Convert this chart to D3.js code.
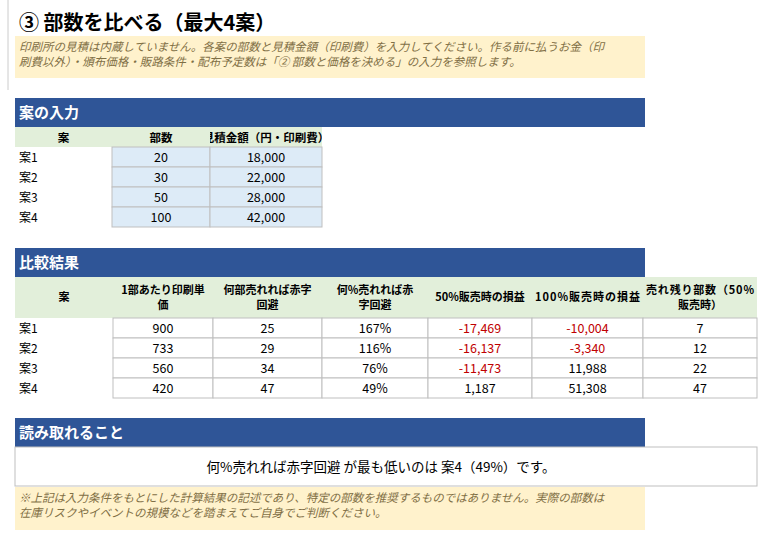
<!DOCTYPE html>
<html><head><meta charset="utf-8">
<script src="https://cdn.jsdelivr.net/npm/d3@7"></script>
<style>body{margin:0;background:#fff}svg{display:block;font-family:"Noto Sans CJK JP","Noto Sans",sans-serif}</style>
</head><body><svg id="c"></svg>
<script>
const plans = ["案1", "案2", "案3", "案4"];
const copies = [20, 30, 50, 100];
const quotes = [18000, 22000, 28000, 42000];
const unitCost = [900, 733, 560, 420];
const breakEvenCopies = [25, 29, 34, 47];
const breakEvenPct = ["167%", "116%", "76%", "49%"];
const profit50 = [-17469, -16137, -11473, 1187];
const profit100 = [-10004, -3340, 11988, 51308];
const unsold50 = [7, 12, 22, 47];
const inputHeaders = ["案", "部数", "見積金額（円・印刷費）"];
const resultHeaders = [["案"], ["1部あたり印刷単", "価"], ["何部売れれば赤字", "回避"], ["何%売れれば赤", "字回避"], ["50%販売時の損益"], ["100%販売時の損益"], ["売れ残り部数（50%", "販売時）"]];

const W = 767, H = 533;
const fmt = d3.format(",");
const svg = d3.select("#c").attr("width", W).attr("height", H);
const blue = "#2F5597", green = "#E2EFDA", yellow = "#FFF2CC", grid = "#BFBFBF";

svg.append("line").attr("x1", 8).attr("x2", 8).attr("y1", 0).attr("y2", 90).attr("stroke", "#ccc");
svg.append("text").attr("x", 19).attr("y", 30).attr("font-size", 20).attr("font-weight", "bold").text("③ 部数を比べる（最大4案）");

function note(y, h, lines) {
  svg.append("rect").attr("x", 15).attr("y", y).attr("width", 630).attr("height", h).attr("fill", yellow);
  lines.forEach((t, i) => svg.append("text").attr("x", 19).attr("y", y + 15 + i * 15)
    .attr("font-size", 11.5).attr("font-style", "italic").attr("fill", "#7F6F45").text(t));
}
function bar(y, label) {
  svg.append("rect").attr("x", 15).attr("y", y).attr("width", 630).attr("height", 29).attr("fill", blue);
  svg.append("text").attr("x", 19).attr("y", y + 20).attr("font-size", 15).attr("font-weight", "bold").attr("fill", "#fff").text(label);
}

note(36, 42, ["印刷所の見積は内蔵していません。各案の部数と見積金額（印刷費）を入力してください。作る前に払うお金（印",
  "刷費以外）・頒布価格・販路条件・配布予定数は「② 部数と価格を決める」の入力を参照します。"]);

// input table
bar(98, "案の入力");
const x1 = d3.scaleOrdinal().domain([0, 1, 2, 3]).range([15, 112, 210, 322]);
const y1 = d3.scaleBand().domain(plans).range([147, 227]);
svg.append("rect").attr("x", 15).attr("y", 127).attr("width", 307).attr("height", 20).attr("fill", green);
svg.append("clipPath").attr("id", "clipIn").append("rect").attr("x", 210).attr("y", 127).attr("width", 112).attr("height", 20);
inputHeaders.forEach((h, i) => svg.append("text").attr("x", (x1(i) + x1(i + 1)) / 2).attr("y", 142)
  .attr("text-anchor", "middle").attr("font-size", 11.5).attr("font-weight", "bold")
  .attr("clip-path", i === 2 ? "url(#clipIn)" : null).text(h));
plans.forEach((p, r) => {
  const y = y1(p), h = y1.bandwidth();
  svg.append("text").attr("x", 19).attr("y", y + 15).attr("font-size", 12).text(p);
  [copies[r], fmt(quotes[r])].forEach((v, c) => {
    const xa = x1(c + 1), xb = x1(c + 2);
    svg.append("rect").attr("x", xa).attr("y", y).attr("width", xb - xa).attr("height", h)
      .attr("fill", "#DDEBF7").attr("stroke", grid);
    svg.append("text").attr("x", (xa + xb) / 2).attr("y", y + 15).attr("text-anchor", "middle").attr("font-size", 12.5).text(v);
  });
});

// results table
bar(248, "比較結果");
const cols = [15, 113, 213, 322, 428, 532, 643, 757];
const y2 = d3.scaleBand().domain(plans).range([318, 398]);
svg.append("rect").attr("x", 15).attr("y", 277).attr("width", 742).attr("height", 41).attr("fill", green);
resultHeaders.forEach((lines, i) => {
  const cx = (cols[i] + cols[i + 1]) / 2;
  lines.forEach((t, k) => svg.append("text").attr("x", cx)
    .attr("y", 301 + (k - (lines.length - 1) / 2) * 15).attr("text-anchor", "middle")
    .attr("font-size", 11).attr("font-weight", "bold").attr("textLength", t.length > 9 ? cols[i + 1] - cols[i] - 6 : null).text(t));
});
plans.forEach((p, r) => {
  const y = y2(p), h = y2.bandwidth();
  svg.append("text").attr("x", 19).attr("y", y + 15).attr("font-size", 12).text(p);
  const vals = [unitCost[r], breakEvenCopies[r], breakEvenPct[r], profit50[r], profit100[r], unsold50[r]];
  vals.forEach((v, c) => {
    const xa = cols[c + 1], xb = cols[c + 2];
    svg.append("rect").attr("x", xa).attr("y", y).attr("width", xb - xa).attr("height", h)
      .attr("fill", "#fff").attr("stroke", grid);
    const neg = typeof v === "number" && v < 0;
    svg.append("text").attr("x", (xa + xb) / 2).attr("y", y + 15).attr("text-anchor", "middle")
      .attr("font-size", 12.5).attr("fill", neg ? "#C00000" : "#000")
      .text(typeof v === "number" ? fmt(v).replace("−", "-") : v);
  });
});

// findings
bar(418, "読み取れること");
const best = d3.minIndex(breakEvenPct, d => parseFloat(d));
svg.append("rect").attr("x", 15).attr("y", 447).attr("width", 742).attr("height", 39).attr("fill", "#fff").attr("stroke", grid);
svg.append("text").attr("x", 381).attr("y", 472).attr("text-anchor", "middle").attr("font-size", 13.5)
  .text(`何%売れれば赤字回避 が最も低いのは ${plans[best]}（${breakEvenPct[best]}）です。`);

note(487, 43, ["※上記は入力条件をもとにした計算結果の記述であり、特定の部数を推奨するものではありません。実際の部数は",
  "在庫リスクやイベントの規模などを踏まえてご自身でご判断ください。"]);
</script></body></html>
